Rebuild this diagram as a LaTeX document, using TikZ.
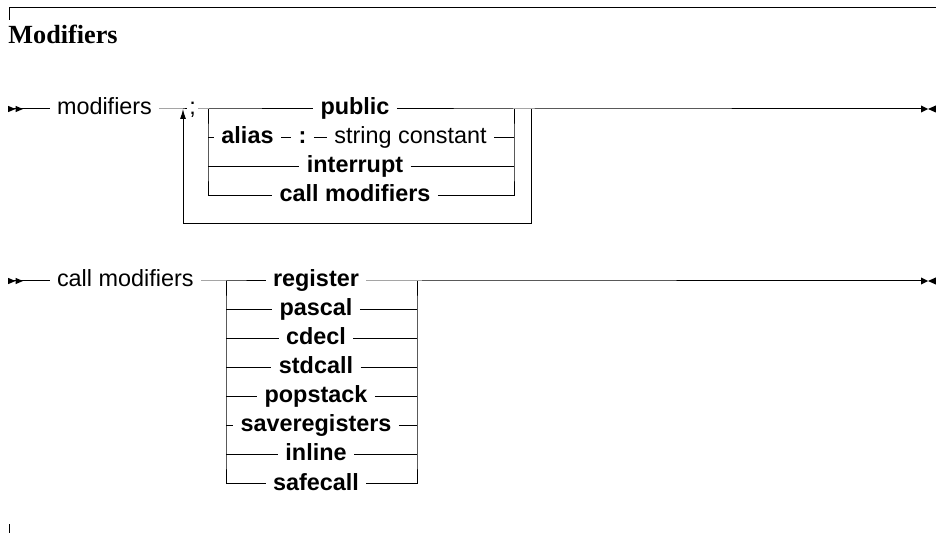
\documentclass[tikz,border=0pt]{standalone}
\usepackage{fontspec}
\setmainfont{Liberation Serif}
\setsansfont{Liberation Sans}
\usetikzlibrary{arrows.meta}
\begin{document}
\begin{tikzpicture}[x=0.5pt,y=-0.5pt,line width=0.5pt,
  tok/.style={fill=white, inner xsep=3.5pt, inner ysep=1pt, text height=6pt, text depth=0pt,
    font=\fontsize{11.7}{14}\selectfont\sffamily},
  kw/.style={tok, font=\fontsize{11.7}{14}\selectfont\sffamily\bfseries},
  startmark/.style={fill=black},
]
\useasboundingbox (0,0) rectangle (936,533);
% frame
\coordinate (ftk) at (9,20); \coordinate (ftl) at (9,7.5); \coordinate (ftr) at (936,7.5);
\draw (ftk) -- (ftl) -- (ftr);
\coordinate (fb1) at (9,524); \coordinate (fb2) at (9,533);
\draw (fb1) -- (fb2);
\node[anchor=base west, inner sep=0pt, font=\fontsize{13.1}{15}\selectfont\bfseries] (title) at (8,44) {Modifiers};

% ---------------- row 1
\coordinate (s1) at (8,109);
\node[tok] (mod) at (104.5,109) {modifiers};
\coordinate (j1) at (183,109);
\node[tok, inner xsep=1pt] (semi) at (192.5,109) {;};
\coordinate (b1) at (208,109);
\node[kw] (pub) at (355,109) {public};
\coordinate (b2) at (514,109);
\coordinate (l1) at (531,109);
\coordinate (e1) at (921,109);
\coordinate (a1) at (208,138); \coordinate (a2) at (514,138);
\node[kw] (alias) at (247.5,138) {alias};
\node[kw] (colon) at (302.5,138) {:};
\node[tok] (strc) at (410.5,138) {string constant};
\coordinate (i1) at (208,167); \coordinate (i2) at (514,167);
\node[kw] (intr) at (355,167) {interrupt};
\coordinate (c1) at (208,196); \coordinate (c2) at (514,196);
\node[kw] (cmod) at (355,196) {call modifiers};
\coordinate (lb) at (183,224);

\draw (s1) -- (mod) -- (j1) -- (semi) -- (b1) -- (pub) -- (b2) -- (l1) -- (e1);
\draw (b1) -- (a1) -- (i1) -- (c1);
\draw (b2) -- (a2) -- (i2) -- (c2);
\draw (a1) -- (alias) -- (colon) -- (strc) -- (a2);
\draw (i1) -- (intr) -- (i2);
\draw (c1) -- (cmod) -- (c2);
\draw[-{Latex[length=5pt,width=3pt]}] (l1) |- (lb) -- (j1);

\fill[shift={(s1)}] (0,-3.2) -- (7.5,0) -- (0,3.2) -- cycle;
\fill[shift={(s1)}] (7.5,-3.2) -- (15,0) -- (7.5,3.2) -- cycle;
\fill[shift={(e1)}] (0,-3.6) -- (7,0) -- (0,3.6) -- cycle;
\fill[shift={(e1)}] (15,-3.6) -- (7,0) -- (15,3.6) -- cycle;

% ---------------- row 2
\coordinate (s2) at (8,281);
\node[tok] (cm2) at (125.3,281) {call modifiers};
\coordinate (d1) at (226,281);
\coordinate (d2) at (417,281);
\coordinate (e2) at (921,281);
\node[kw] (reg) at (316,281) {register};
\coordinate (p1) at (226,310); \coordinate (p2) at (417,310);
\node[kw] (pas) at (316,310) {pascal};
\coordinate (q1) at (226,339); \coordinate (q2) at (417,339);
\node[kw] (cde) at (316,339) {cdecl};
\coordinate (r1) at (226,368); \coordinate (r2) at (417,368);
\node[kw] (std) at (316,368) {stdcall};
\coordinate (t1) at (226,397); \coordinate (t2) at (417,397);
\node[kw] (pop) at (316,397) {popstack};
\coordinate (u1) at (226,426); \coordinate (u2) at (417,426);
\node[kw] (sav) at (316,426) {saveregisters};
\coordinate (v1) at (226,455); \coordinate (v2) at (417,455);
\node[kw] (inl) at (316,455) {inline};
\coordinate (w1) at (226,484); \coordinate (w2) at (417,484);
\node[kw] (saf) at (316,484) {safecall};

\draw (s2) -- (cm2) -- (d1) -- (reg) -- (d2) -- (e2);
\draw (d1) -- (p1) -- (q1) -- (r1) -- (t1) -- (u1) -- (v1) -- (w1);
\draw (d2) -- (p2) -- (q2) -- (r2) -- (t2) -- (u2) -- (v2) -- (w2);
\draw (p1) -- (pas) -- (p2);
\draw (q1) -- (cde) -- (q2);
\draw (r1) -- (std) -- (r2);
\draw (t1) -- (pop) -- (t2);
\draw (u1) -- (sav) -- (u2);
\draw (v1) -- (inl) -- (v2);
\draw (w1) -- (saf) -- (w2);

\fill[shift={(s2)}] (0,-3.2) -- (7.5,0) -- (0,3.2) -- cycle;
\fill[shift={(s2)}] (7.5,-3.2) -- (15,0) -- (7.5,3.2) -- cycle;
\fill[shift={(e2)}] (0,-3.6) -- (7,0) -- (0,3.6) -- cycle;
\fill[shift={(e2)}] (15,-3.6) -- (7,0) -- (15,3.6) -- cycle;
\end{tikzpicture}
\end{document}
